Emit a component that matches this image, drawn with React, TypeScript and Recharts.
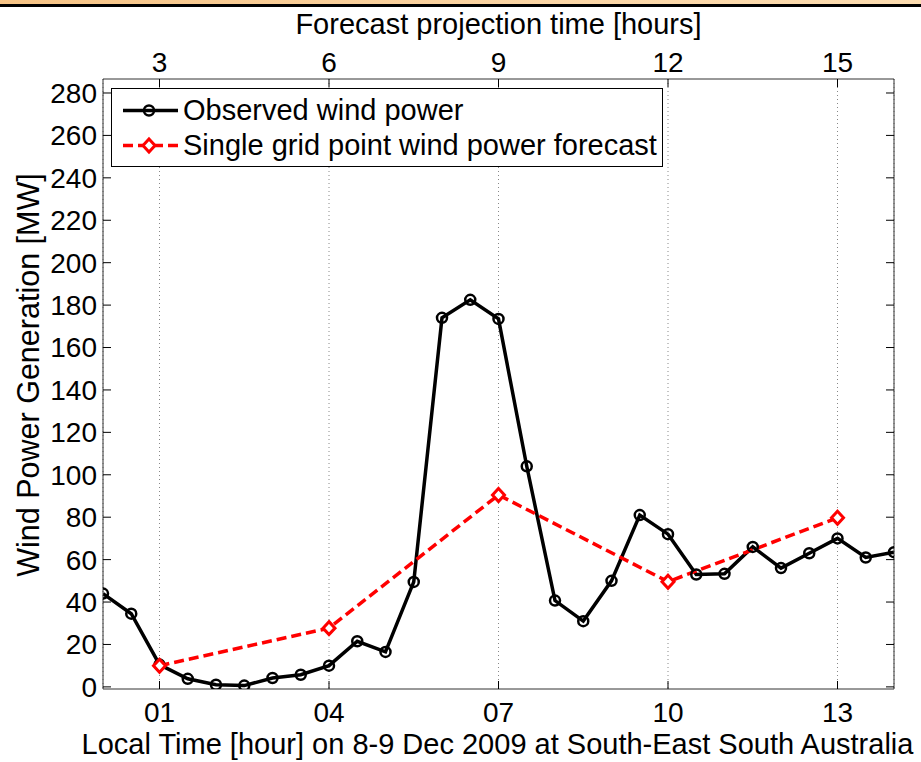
import { CartesianGrid, Legend, Line, LineChart, XAxis, YAxis } from "recharts";

const hours = [0, 0.5, 1, 1.5, 2, 2.5, 3, 3.5, 4, 4.5, 5, 5.5, 6, 6.5, 7, 7.5, 8, 8.5, 9, 9.5, 10, 10.5, 11, 11.5, 12, 12.5, 13, 13.5, 14];
const observed = [44, 34.5, 10.5, 3.8, 1, 0.6, 4.2, 5.7, 10, 21.5, 16.5, 49.5, 174, 182.5, 173.5, 104, 40.7, 31, 50, 81, 72, 53, 53.3, 66, 56, 63, 70, 61, 63.5];
const forecastHours = [1, 4, 7, 10, 13];
const forecast = [10, 27.7, 90.5, 49.6, 79.7];
const xTicks = [1, 4, 7, 10, 13];
const yTicks = [0, 20, 40, 60, 80, 100, 120, 140, 160, 180, 200, 220, 240, 260, 280];

const obsData = hours.map((h, i) => ({ h, v: observed[i] }));
const fcData = forecastHours.map((h, i) => ({ h, v: forecast[i] }));

const FONT = '"Liberation Sans", Arial, Helvetica, sans-serif';
const RED = "#ff0000";
const BOX = "#333";

const tickStyle = { fontSize: 28, fill: "#000", fontFamily: FONT };

function Diamond(props: any) {
  const { cx, cy, index } = props;
  if (cx == null || cy == null) return <g key={index} />;
  return (
    <path
      key={index}
      d={`M${cx},${cy - 6.5}L${cx + 6},${cy}L${cx},${cy + 6.5}L${cx - 6},${cy}Z`}
      fill="#fff"
      stroke={RED}
      strokeWidth={3}
    />
  );
}

function LegendBox() {
  const row = (kind: "obs" | "fc", label: string) => (
    <div style={{ display: "flex", alignItems: "center", height: 35 }}>
      <svg width={71} height={35} style={{ flex: "none" }}>
        {kind === "obs" ? (
          <>
            <line x1={11} x2={66} y1={17.5} y2={17.5} stroke="#000" strokeWidth={3.5} />
            <circle cx={37} cy={17.5} r={5} fill="none" stroke="#000" strokeWidth={2.5} />
          </>
        ) : (
          <>
            <line x1={11} x2={66} y1={17.5} y2={17.5} stroke={RED} strokeWidth={3.5} strokeDasharray="10 5" />
            <Diamond cx={37} cy={17.5} index={0} />
          </>
        )}
      </svg>
      <span style={{ fontSize: 29, fontFamily: FONT, color: "#000", whiteSpace: "nowrap" }}>{label}</span>
    </div>
  );
  return (
    <div
      style={{
        width: 552,
        height: 79,
        border: "1px solid #000",
        background: "#fff",
        padding: "4px 0 0 0",
        boxSizing: "border-box",
      }}
    >
      {row("obs", "Observed wind power")}
      {row("fc", "Single grid point wind power forecast")}
    </div>
  );
}

export default function App() {
  return (
    <div style={{ position: "absolute", left: 0, top: 0, width: 921, height: 762, background: "#fff" }}>
      <div
        style={{
          position: "absolute",
          left: 0,
          top: 0,
          width: 921,
          height: 4,
          background: "linear-gradient(to right, #f6c385, #fbd6a6 60%, #fcdcb0)",
        }}
      />
      <div style={{ position: "absolute", left: 0, top: 4, width: 921, height: 3, background: "#000" }} />
      <LineChart width={921} height={762} margin={{ top: 0, right: 0, bottom: 0, left: 0 }}>
        <CartesianGrid vertical horizontal={false} stroke="#888" strokeDasharray="1 3" />
        <XAxis
          type="number"
          dataKey="h"
          domain={[0, 14]}
          ticks={xTicks}
          allowDataOverflow
          height={73}
          tickFormatter={(v) => String(v).padStart(2, "0")}
          tick={tickStyle}
          tickSize={-8}
          tickMargin={21}
          tickLine={{ stroke: "#000" }}
          axisLine={{ stroke: BOX }}
          label={(p: any) => (
            <text
              x={p.viewBox.x + p.viewBox.width / 2 - 1}
              y={p.viewBox.y + 65}
              textAnchor="middle"
              fontSize={29}
              fontFamily={FONT}
              fill="#000"
            >
              Local Time [hour] on 8-9 Dec 2009 at South-East South Australia
            </text>
          )}
        />
        <XAxis
          xAxisId="top"
          orientation="top"
          type="number"
          dataKey="h"
          domain={[0, 14]}
          ticks={xTicks}
          allowDataOverflow
          height={79}
          tickFormatter={(v) => String(v + 2)}
          tick={tickStyle}
          tickSize={-8}
          tickMargin={15}
          tickLine={{ stroke: "#000" }}
          axisLine={{ stroke: BOX }}
          label={(p: any) => (
            <text
              x={p.viewBox.x + p.viewBox.width / 2}
              y={p.viewBox.y + 34}
              textAnchor="middle"
              fontSize={29}
              fontFamily={FONT}
              fill="#000"
            >
              Forecast projection time [hours]
            </text>
          )}
        />
        <YAxis
          type="number"
          domain={[-1, 286.6]}
          ticks={yTicks}
          allowDataOverflow
          width={103}
          tick={tickStyle}
          tickSize={-8}
          tickMargin={14}
          tickLine={{ stroke: "#000" }}
          axisLine={{ stroke: BOX }}
          label={() => (
            <text
              x={39}
              y={375}
              transform="rotate(-90, 39, 375)"
              textAnchor="middle"
              fontSize={30.5}
              fontFamily={FONT}
              fill="#000"
            >
              Wind Power Generation [MW]
            </text>
          )}
        />
        <YAxis
          yAxisId="right"
          orientation="right"
          type="number"
          domain={[-1, 286.6]}
          ticks={yTicks}
          allowDataOverflow
          width={27}
          tick={() => <g />}
          tickSize={-8}
          tickLine={{ stroke: "#000" }}
          axisLine={{ stroke: BOX }}
        />
        <Legend
          layout="horizontal"
          verticalAlign="middle"
          align="center"
          content={() => <LegendBox />}
          wrapperStyle={{ left: 111, top: 88, width: 552, height: 79 }}
        />
        <Line
          data={obsData}
          dataKey="v"
          type="linear"
          stroke="#000"
          strokeWidth={3.5}
          dot={{ r: 5, stroke: "#000", strokeWidth: 2.5, fill: "none" }}
          activeDot={false}
          isAnimationActive={false}
        />
        <Line
          data={fcData}
          dataKey="v"
          type="linear"
          stroke={RED}
          strokeWidth={3.5}
          strokeDasharray="10 5"
          dot={(p: any) => <Diamond {...p} key={p.index} />}
          activeDot={false}
          isAnimationActive={false}
        />
      </LineChart>
    </div>
  );
}
